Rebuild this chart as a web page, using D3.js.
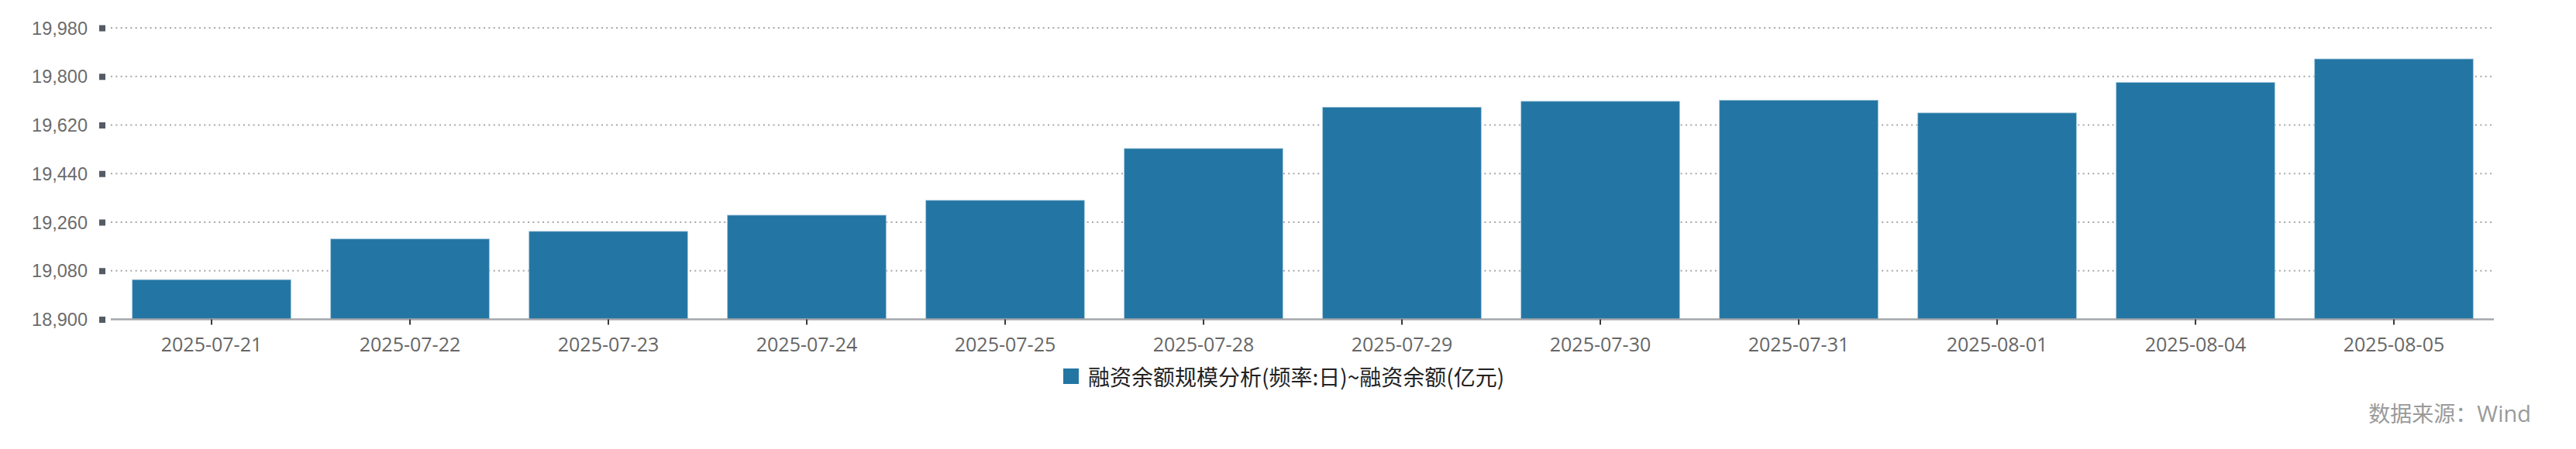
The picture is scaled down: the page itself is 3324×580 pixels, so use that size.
<!DOCTYPE html>
<html>
<head>
<meta charset="utf-8">
<script src="https://cdn.jsdelivr.net/npm/d3@7/dist/d3.min.js"></script>
<style>
  html, body { margin: 0; padding: 0; background: #ffffff; }
  svg { display: block; }
</style>
</head>
<body>
<script>
// ---- data ----
const categories = ["2025-07-21", "2025-07-22", "2025-07-23", "2025-07-24", "2025-07-25", "2025-07-28",
                    "2025-07-29", "2025-07-30", "2025-07-31", "2025-08-01", "2025-08-04", "2025-08-05"];
const values = [19047, 19198, 19226, 19286, 19341, 19533, 19686, 19708, 19712, 19665, 19778, 19865];
const yTicks = [18900, 19080, 19260, 19440, 19620, 19800, 19980];
const seriesName = "融资余额规模分析(频率:日)~融资余额(亿元)";
const sourceLabel = "数据来源：";
const sourceName = "Wind";

// ---- layout ----
const W = 3324, H = 580;
const plotLeft = 143, plotRight = 3218, plotTop = 36, plotBottom = 412.5;
const barColor = "#2376a3";

const svg = d3.select("body").append("svg").attr("width", W).attr("height", H);

const x = d3.scaleBand().domain(categories).range([145, 3217]).paddingInner(0.2).paddingOuter(0.1);
const y = d3.scaleLinear().domain([yTicks[0], yTicks[yTicks.length - 1]]).range([plotBottom, plotTop]);

// grid lines
svg.append("g").selectAll("line").data(yTicks.slice(1)).join("line")
  .attr("x1", plotLeft).attr("x2", plotRight)
  .attr("y1", d => y(d)).attr("y2", d => y(d))
  .attr("stroke", "#a8a8a8").attr("stroke-width", 2).attr("stroke-dasharray", "2,4.33");

// bars
svg.append("g").selectAll("rect").data(values).join("rect")
  .attr("x", (d, i) => x(categories[i]))
  .attr("y", d => y(d))
  .attr("width", x.bandwidth())
  .attr("height", d => y(yTicks[0]) - y(d))
  .attr("fill", barColor)
  .attr("stroke", "#a9cbe0").attr("stroke-width", 1).attr("stroke-opacity", 0.7);

// y axis
const yAxis = d3.axisLeft(y).tickValues(yTicks).tickSize(0).tickPadding(30).tickFormat(d3.format(","));
const gy = svg.append("g").attr("transform", `translate(${plotLeft},0)`).call(yAxis);
gy.select(".domain").remove();
gy.selectAll(".tick text")
  .attr("font-family", "'Liberation Sans', Arial, sans-serif")
  .attr("font-size", 23.5).attr("fill", "#6b6b6b").attr("dy", "0.35em");
gy.selectAll(".tick").append("rect")
  .attr("x", -15).attr("y", -4).attr("width", 8).attr("height", 8).attr("fill", "#555b65");

// x axis
const xAxis = d3.axisBottom(x).tickSize(7).tickSizeOuter(0).tickPadding(16.5);
const gx = svg.append("g").attr("transform", `translate(0,${plotBottom})`).call(xAxis);
gx.select(".domain").attr("d", `M${plotLeft},0H${plotRight}`).attr("stroke", "#a3a6aa").attr("stroke-width", 2.5);
gx.selectAll(".tick line").attr("stroke", "#3a3a3f").attr("stroke-width", 2);
gx.selectAll(".tick text")
  .attr("font-family", "'Open Sans', 'Noto Sans', sans-serif")
  .attr("font-size", 25).attr("fill", "#666666");

// legend
const lg = svg.append("g");
lg.append("rect").attr("x", 1372).attr("y", 476).attr("width", 20).attr("height", 20).attr("fill", barColor);
lg.append("text").attr("x", 1404).attr("y", 486).attr("dominant-baseline", "central")
  .attr("font-family", "'Noto Sans CJK SC', sans-serif").attr("font-size", 28).attr("fill", "#222222")
  .text(seriesName);

// source
const src = svg.append("text").attr("x", 3266).attr("y", 545).attr("text-anchor", "end")
  .attr("fill", "#9a9a9a");
src.append("tspan").attr("font-family", "'Noto Sans CJK SC', sans-serif").attr("font-size", 28).text(sourceLabel);
src.append("tspan").attr("font-family", "'Open Sans', 'Noto Sans', sans-serif").attr("font-size", 29)
  .text(sourceName);
</script>
</body>
</html>
